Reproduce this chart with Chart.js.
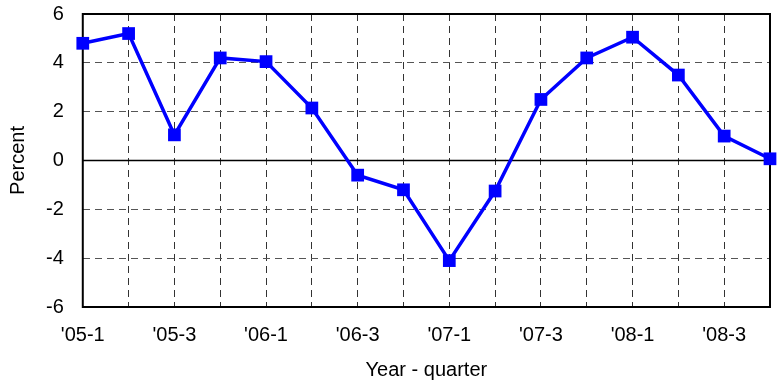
<!DOCTYPE html>
<html>
<head>
<meta charset="utf-8">
<script src="https://cdn.jsdelivr.net/npm/chart.js@4/dist/chart.umd.min.js"></script>
<style>
  html, body { margin: 0; padding: 0; background: #fff; }
  #wrap { width: 779px; height: 383px; }
</style>
</head>
<body>
<div id="wrap"><canvas id="growth-chart"></canvas></div>
<script>
// Quarters shown on the x axis (every other one is labelled)
const quarters = [
    "'05-1", "'05-2", "'05-3", "'05-4",
    "'06-1", "'06-2", "'06-3", "'06-4",
    "'07-1", "'07-2", "'07-3", "'07-4",
    "'08-1", "'08-2", "'08-3", "'08-4"
];

// Quarterly change, percent
const percentValues = [
    4.8, 5.2, 1.05, 4.2,
    4.05, 2.15, -0.6, -1.2,
    -4.1, -1.25, 2.5, 4.2,
    5.05, 3.5, 1.0, 0.07
];

const Y_MIN = -6;
const Y_MAX = 6;
const Y_STEP = 2;

const FONT = "'Liberation Sans', Arial, sans-serif";

// Solid zero line and the black frame round the plot area, under the line
const framePlugin = {
    id: 'frame',
    beforeDatasetsDraw(chart) {
        const { ctx, chartArea, scales } = chart;
        const y0 = scales.y.getPixelForValue(0);
        ctx.save();
        ctx.strokeStyle = '#000';
        ctx.setLineDash([]);
        ctx.lineWidth = 1.5;
        ctx.beginPath();
        ctx.moveTo(chartArea.left, y0);
        ctx.lineTo(chartArea.right, y0);
        ctx.stroke();
        ctx.lineWidth = 2;
        ctx.strokeRect(chartArea.left, chartArea.top,
            chartArea.right - chartArea.left, chartArea.bottom - chartArea.top);
        ctx.restore();
    }
};

new Chart(document.getElementById('growth-chart').getContext('2d'), {
    type: 'line',
    data: {
        labels: quarters,
        datasets: [{
            data: percentValues,
            borderColor: '#0000ff',
            backgroundColor: '#0000ff',
            borderWidth: 3.5,
            tension: 0,
            pointStyle: 'rect',
            pointRadius: 9,
            pointHoverRadius: 9,
            pointBorderWidth: 0,
            clip: false
        }]
    },
    options: {
        responsive: true,
        maintainAspectRatio: false,
        animation: false,
        layout: { padding: { top: 14, right: 6, left: 0, bottom: 0 } },
        plugins: {
            legend: { display: false },
            tooltip: { enabled: false }
        },
        scales: {
            x: {
                offset: false,
                grid: {
                    color: '#333',
                    lineWidth: 1,
                    drawTicks: true,
                    tickLength: 16,
                    tickColor: 'rgba(0,0,0,0)'
                },
                border: { display: false, dash: [7, 5] },
                ticks: {
                    autoSkip: false,
                    maxRotation: 0,
                    padding: 0,
                    color: '#000',
                    font: { family: FONT, size: 20 },
                    callback: (value, index) => index % 2 === 0 ? quarters[index] : ''
                },
                title: {
                    display: true,
                    text: 'Year - quarter',
                    color: '#000',
                    font: { family: FONT, size: 20 },
                    padding: { top: 11, bottom: 1 }
                }
            },
            y: {
                min: Y_MIN,
                max: Y_MAX,
                grid: {
                    color: '#555',
                    lineWidth: 1,
                    drawTicks: true,
                    tickLength: 19,
                    tickColor: 'rgba(0,0,0,0)'
                },
                border: { display: false, dash: [7, 5] },
                ticks: {
                    stepSize: Y_STEP,
                    padding: 0,
                    color: '#000',
                    font: { family: FONT, size: 20 }
                },
                title: {
                    display: true,
                    text: 'Percent',
                    color: '#000',
                    font: { family: FONT, size: 20 },
                    padding: { top: 6, bottom: 16 }
                }
            }
        }
    },
    plugins: [framePlugin]
});
</script>
</body>
</html>
